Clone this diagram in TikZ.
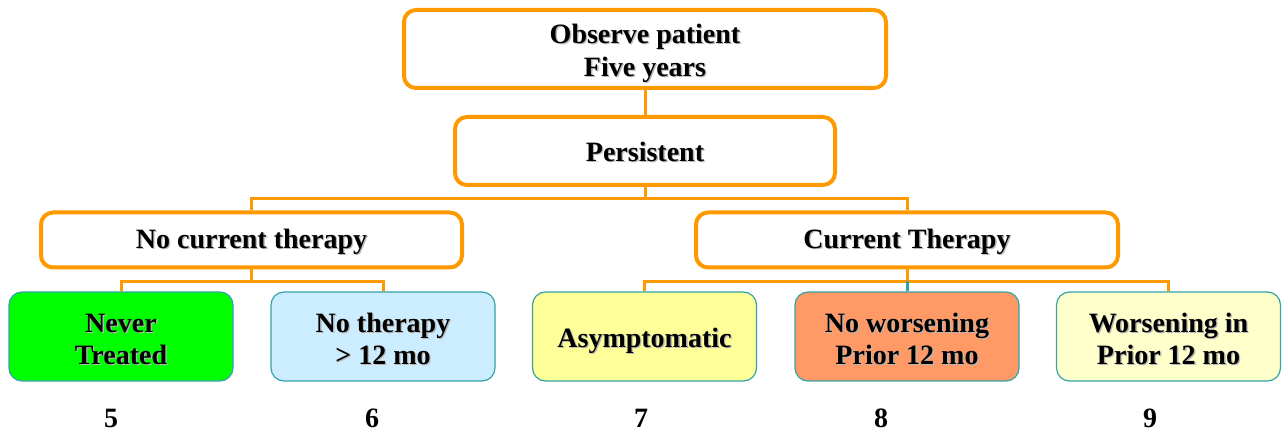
\documentclass[tikz,border=0pt]{standalone}
\usepackage{fontspec}
\setmainfont{Liberation Serif}
\definecolor{orng}{HTML}{FF9900}
\definecolor{tealb}{HTML}{33A3A8}
\definecolor{cgreen}{HTML}{00FF00}
\definecolor{cblue}{HTML}{CCECFF}
\definecolor{cyellow}{HTML}{FFFF99}
\definecolor{csalmon}{HTML}{FF9966}
\definecolor{cpale}{HTML}{FFFFCC}
\newcommand{\shd}[1]{\leavevmode\rlap{\kern1.3pt\raisebox{-1.3pt}{\textcolor{black!28}{#1}}}#1}
\newcommand{\dn}[1]{\rule{0pt}{#1}}
\newcommand{\lw}[2]{\raisebox{-#1}[\height][\depth]{#2}}
\tikzset{
  obox/.style={draw=orng, line width=4pt, rounded corners=12pt, fill=white, inner sep=0pt, align=center,
    font=\fontsize{28}{33}\selectfont\bfseries},
  leaf/.style={draw=tealb, line width=1.2pt, rounded corners=13pt, inner sep=0pt, align=center,
    minimum width=224pt, minimum height=89pt, font=\fontsize{28}{32}\selectfont\bfseries},
  conn/.style={draw=orng, line width=3pt},
  tconn/.style={draw=tealb, line width=3pt},
  num/.style={font=\fontsize{28}{30}\selectfont\bfseries, inner sep=0pt}
}
\begin{document}
\begin{tikzpicture}[x=1pt,y=-1pt]
\useasboundingbox (0,0) rectangle (1283,435);
\node[obox, minimum width=482pt, minimum height=78pt] (obs) at (645,49) {\dn{29pt}\shd{Observe patient}\\\shd{Five years}};
\node[obox, minimum width=380pt, minimum height=68pt] (per) at (645,151) {\lw{1.5pt}{\shd{Persistent}}};
\node[obox, minimum width=421pt, minimum height=55pt] (nct) at (251.5,240) {\lw{2pt}{\shd{No current therapy}}};
\node[obox, minimum width=422pt, minimum height=55pt] (ct) at (907,240) {\lw{2pt}{\shd{Current Therapy}}};
\node[leaf, fill=cgreen] (nev) at (121,336.5) {\dn{25pt}\shd{Never}\\\shd{Treated}};
\node[leaf, fill=cblue] (nth) at (383,336.5) {\dn{25pt}\shd{No therapy}\\\shd{> 12 mo}};
\node[leaf, fill=cyellow] (asy) at (644.5,336.5) {\lw{5pt}{\shd{Asymptomatic}}};
\node[leaf, fill=csalmon] (now) at (907,336.5) {\dn{25pt}\shd{No worsening}\\\shd{Prior 12 mo}};
\node[leaf, fill=cpale] (wor) at (1168.5,336.5) {\dn{25pt}\shd{Worsening in}\\\shd{Prior 12 mo}};
\node[num] (n5) at (111,418) {5};
\node[num] (n6) at (372,418) {6};
\node[num] (n7) at (641,418) {7};
\node[num] (n8) at (881,418) {8};
\node[num] (n9) at (1150,418) {9};
\draw[conn] (obs.south) -- (per.north);
\coordinate (j1) at (645,199);
\draw[conn] (per.south) -- (j1);
\draw[conn] (j1) -| (nct.north);
\draw[conn] (j1) -| (ct.north);
\draw[conn] (nct.south) -- ++(0,12) coordinate (j2);
\draw[conn] (j2) -| (nev.north);
\draw[conn] (j2) -| (nth.north);
\draw[conn] (ct.south) -- ++(0,12) coordinate (j3);
\draw[conn] (j3) -| (asy.north);
\draw[conn] (j3) -| (wor.north);
\draw[tconn] (j3) -- (now.north);
\end{tikzpicture}
\end{document}
